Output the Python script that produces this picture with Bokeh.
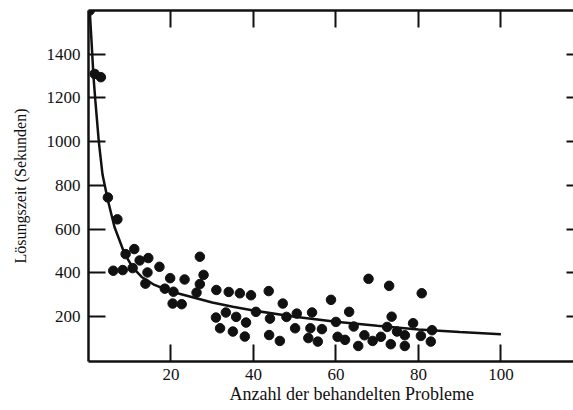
from bokeh.plotting import figure
from bokeh.models import LinearAxis, FixedTicker, Range1d, Title
from bokeh.embed import file_html
from bokeh.resources import INLINE

# --- data ---
x_ticks = [20, 40, 60, 80, 100]
y_ticks = [200, 400, 600, 800, 1000, 1200, 1400]

probleme = [0.3, 1.5, 3.0, 4.7, 7.0, 6.0, 8.3, 9.0, 10.7, 11.1, 12.4, 14.5, 14.3, 13.8,
            17.2, 19.8, 18.5, 20.6, 20.4, 22.6, 23.3, 27.0, 27.9, 27.0, 26.2, 31.0,
            34.0, 36.7, 39.4, 43.7, 33.3, 30.9, 35.8, 38.2, 31.9, 35.0, 37.9, 40.6,
            44.0, 43.8, 47.1, 46.4, 48.0, 50.5, 50.1, 54.2, 53.8, 53.3, 55.6, 56.6,
            58.8, 60.0, 60.4, 62.2, 63.2, 64.3, 65.4, 67.9, 66.9, 68.9, 70.9, 72.9,
            80.8, 73.5, 72.4, 74.8, 76.7, 78.7, 80.6, 83.3, 83.0, 76.7, 73.3]
zeit = [1600, 1310, 1295, 745, 645, 410, 413, 486, 422, 509, 457, 468, 402, 351,
        428, 376, 328, 314, 260, 257, 370, 474, 391, 349, 310, 322,
        313, 307, 298, 317, 219, 196, 199, 173, 147, 132, 109, 222,
        191, 116, 260, 89, 199, 214, 147, 219, 147, 102, 86, 143,
        277, 176, 108, 94, 222, 155, 66, 373, 115, 89, 108, 341,
        307, 200, 153, 132, 115, 170, 112, 138, 86, 66, 74]

kurve_x = [0.3, 0.7, 1.2, 1.65, 2.5, 3.4, 4.6, 6.3, 8.7, 10.7, 13, 16, 20, 25, 30,
           35, 40, 50, 60, 70, 80, 90, 100]
kurve_y = [1600, 1470, 1300, 1190, 1000, 850, 740, 610, 490, 425, 380, 345, 315,
           290, 265, 245, 228, 200, 177, 158, 141, 130, 120]

x_label = "Anzahl der behandelten Probleme"
y_label = "Lösungszeit (Sekunden)"

FONT = "Liberation Serif"
INK = "#111111"

p = figure(width=573, height=410, output_backend="svg", toolbar_location=None,
           x_range=Range1d(0, 117.6), y_range=Range1d(-5, 1600),
           x_axis_location=None, y_axis_location=None,
           min_border_left=88, min_border_right=0, min_border_top=10,
           min_border_bottom=49, background_fill_color="white",
           border_fill_color="white")
p.outline_line_color = None
p.grid.visible = False


def style(ax, ticks, labels=True, tick_in=17):
    ax.ticker = FixedTicker(ticks=ticks)
    ax.axis_line_color = INK
    ax.axis_line_width = 2.5
    ax.major_tick_line_color = INK
    ax.major_tick_line_width = 2
    ax.major_tick_in = tick_in
    ax.major_tick_out = 0
    ax.minor_tick_line_color = None
    ax.major_label_text_font = FONT
    ax.major_label_text_font_size = "17px"
    ax.major_label_text_color = INK
    if labels:
        ax.major_label_standoff = 7
    else:
        ax.major_label_overrides = {t: "" for t in ticks}
        ax.major_label_standoff = 0


bottom = LinearAxis()
style(bottom, x_ticks)
p.add_layout(bottom, "below")

top = LinearAxis()
style(top, x_ticks, labels=False)
p.add_layout(top, "above")

left = LinearAxis(axis_label=y_label)
style(left, y_ticks)
left.major_label_standoff = 8
left.axis_label_text_font = FONT
left.axis_label_text_font_size = "16px"
left.axis_label_text_font_style = "normal"
left.axis_label_text_color = INK
left.axis_label_standoff = 15
p.add_layout(left, "left")

right = LinearAxis()
style(right, y_ticks, labels=False, tick_in=7)
right.axis_line_color = None
p.add_layout(right, "right")

p.line(kurve_x, kurve_y, line_color=INK, line_width=2.5)
p.scatter(probleme, zeit, size=9.5, fill_color=INK, line_color=INK)

xt = Title(text=x_label, text_font=FONT, text_font_size="18px",
           text_font_style="normal", text_color=INK, align="left",
           vertical_align="middle", offset=141, standoff=0)
p.add_layout(xt, "below")

open("out.html", "w").write(file_html(p, INLINE))
